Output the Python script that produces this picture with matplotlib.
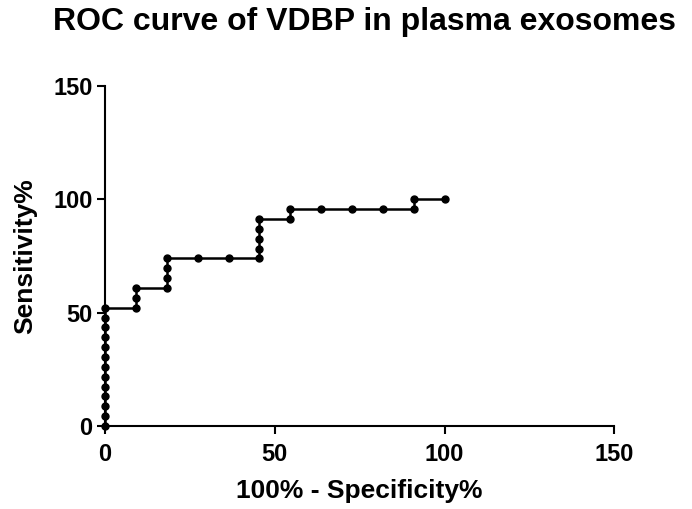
import matplotlib
matplotlib.use("Agg")
import matplotlib.pyplot as plt

# ROC points (100% - specificity %, sensitivity %)
fpr = [0] * 13 + [9.09] * 3 + [18.18] * 4 + [27.27, 36.36] + [45.45] * 5 \
    + [54.55] * 2 + [63.64, 72.73, 81.82] + [90.91] * 2 + [100]
tpr = [0, 4.35, 8.70, 13.04, 17.39, 21.74, 26.09, 30.43, 34.78, 39.13, 43.48, 47.83, 52.17,
       52.17, 56.52, 60.87,
       60.87, 65.22, 69.57, 73.91,
       73.91, 73.91,
       73.91, 78.26, 82.61, 86.96, 91.30,
       91.30, 95.65,
       95.65, 95.65, 95.65,
       95.65, 100,
       100]
ticks = [0, 50, 100, 150]

plt.rcParams["font.family"] = ["Liberation Sans", "DejaVu Sans"]
plt.rcParams["font.weight"] = "bold"

fig = plt.figure(figsize=(6.92, 5.09), dpi=100)
ax = fig.add_axes([0.152, 0.163, 0.7356, 0.668])

ax.plot(fpr, tpr, color="black", linewidth=1.8, marker="o", markersize=5,
        markerfacecolor="black", clip_on=False, zorder=3)

ax.set_xlim(0, 150)
ax.set_ylim(0, 150)
ax.set_xticks(ticks)
ax.set_yticks(ticks)
ax.spines["top"].set_visible(False)
ax.spines["right"].set_visible(False)
for side in ("left", "bottom"):
    ax.spines[side].set_linewidth(1.5)
ax.tick_params(width=1.5, length=6, labelsize=17, pad=3)
ax.tick_params(axis="x", pad=6)
for lab in ax.get_xticklabels() + ax.get_yticklabels():
    lab.set_fontweight("bold")

ax.set_xlabel("100% - Specificity%", fontsize=19, fontweight="bold", va="center")
ax.set_ylabel("Sensitivity%", fontsize=19, fontweight="bold", va="center")
ax.xaxis.set_label_coords(0.5, -0.19)
ax.yaxis.set_label_coords(-0.158, 0.5)
fig.text(0.527, 0.957, "ROC curve of VDBP in plasma exosomes", fontsize=23,
         fontweight="bold", ha="center", va="center")

fig.savefig("out.png", dpi=100)
